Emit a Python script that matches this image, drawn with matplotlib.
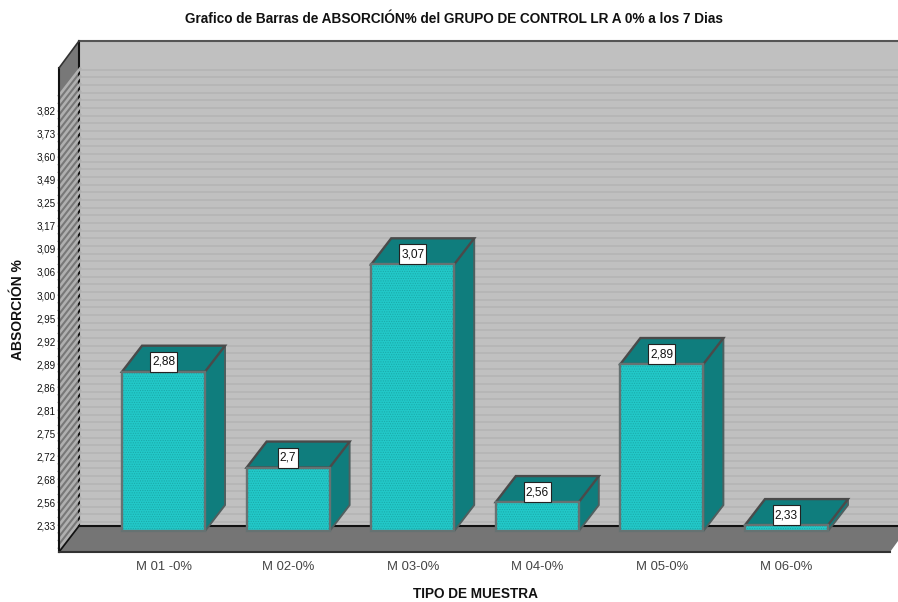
import numpy as np
import matplotlib
matplotlib.use('Agg')
import matplotlib.pyplot as plt
from matplotlib.patches import Polygon, Rectangle
from matplotlib.transforms import Affine2D

plt.rcParams['font.family'] = ['Liberation Sans', 'DejaVu Sans']
plt.rcParams['hatch.linewidth'] = 0.5

muestras = ['M 01 -0%', 'M 02-0%', 'M 03-0%', 'M 04-0%', 'M 05-0%', 'M 06-0%']
absorcion = [2.88, 2.7, 3.07, 2.56, 2.89, 2.33]
etiquetas = ['2,88', '2,7', '3,07', '2,56', '2,89', '2,33']

# the value axis is categorical: every distinct reading gets one equal step
niveles = [2.33, 2.56, 2.68, 2.72, 2.75, 2.81, 2.86, 2.89, 2.92, 2.95, 3.00,
           3.06, 3.09, 3.17, 3.25, 3.49, 3.60, 3.73, 3.82]
niveles = np.array(niveles)
rangos = np.arange(len(niveles))


def to_rank(v):
    v = np.asarray(v, dtype=float)
    r = np.interp(v, niveles, rangos)
    r = np.where(v < niveles[0], (v - niveles[0]) / (niveles[1] - niveles[0]), r)
    r = np.where(v > niveles[-1], rangos[-1] + (v - niveles[-1]) / (niveles[-1] - niveles[-2]), r)
    return r


def from_rank(r):
    r = np.asarray(r, dtype=float)
    v = np.interp(r, rangos, niveles)
    v = np.where(r < 0, niveles[0] + r * (niveles[1] - niveles[0]), v)
    v = np.where(r > rangos[-1], niveles[-1] + (r - rangos[-1]) * (niveles[-1] - niveles[-2]), v)
    return v


W, H = 898, 602
fig = plt.figure(figsize=(W / 100, H / 100), dpi=100, facecolor='white')

# front plane of the box, in pixels from the top left corner
LEFT, RIGHT, TOP, BOTTOM = 59, 898, 41, 552
ax = fig.add_axes([LEFT / W, 1 - BOTTOM / H, (RIGHT - LEFT) / W, (BOTTOM - TOP) / H])
ax.patch.set_alpha(0)
for s in ax.spines.values():
    s.set_visible(False)

ax.set_yscale('function', functions=(to_rank, from_rank))
ax.set_ylim(from_rank(-1.17), from_rank(21.04))
ax.set_xlim(-0.839, 5.895)
ax.set_yticks(niveles)
ax.set_yticklabels([('%.2f' % n).replace('.', ',') for n in niveles])
x = np.arange(len(muestras))
ax.set_xticks(x)
ax.set_xticklabels(muestras)
ax.tick_params(axis='y', length=0, pad=2.5, labelsize=7.1, labelcolor='#111111')
ax.tick_params(axis='x', length=0, pad=6.3, labelsize=9.4, labelcolor='#444444')

# pixel coordinates measured from the top left corner
px = Affine2D().scale(1, -1).translate(0, H)
DX, DY = 20, 26


def poly(pts, **kw):
    p = Polygon(pts, closed=True, transform=px, clip_on=False, **kw)
    ax.add_patch(p)
    return p


def line(xs, ys, **kw):
    ax.plot(xs, ys, transform=px, clip_on=False, solid_capstyle='projecting', **kw)


# walls and floor
poly([(LEFT + DX, TOP), (RIGHT, TOP), (RIGHT, BOTTOM - DY), (LEFT + DX, BOTTOM - DY)],
     fc='#c0c0c0', ec='none', zorder=0)
poly([(LEFT, TOP + DY + 1), (LEFT + DX, TOP), (LEFT + DX, BOTTOM - DY), (LEFT, BOTTOM)],
     fc='#787878', ec='none', zorder=0)
poly([(LEFT, BOTTOM), (LEFT + DX, BOTTOM - DY), (RIGHT, BOTTOM - DY), (RIGHT, BOTTOM - 11), (890, BOTTOM)],
     fc='#757575', ec='none', zorder=0)

line([LEFT + DX, LEFT + DX], [TOP, BOTTOM - DY], color='#111111', lw=1.5, zorder=1)

# grid lines run along the back wall and down the left wall
trans = ax.transData
for r in np.arange(-1, 18.9, 1 / 3):
    y_px = H - trans.transform((0, from_rank(r)))[1]
    line([LEFT + DX + 1, RIGHT], [y_px - DY, y_px - DY], color='#b3b3b3', lw=1.1, zorder=1)
    line([LEFT, LEFT + DX + 1], [y_px, y_px - DY - 1], color='#b0b0b0', lw=1.9, zorder=1)

line([LEFT + DX, RIGHT], [TOP, TOP], color='#555555', lw=1.5, zorder=1.5)
line([LEFT, LEFT], [TOP + DY + 1, BOTTOM], color='#111111', lw=1.5, zorder=1.5)
line([LEFT, LEFT + DX], [TOP + DY + 1, TOP], color='#333333', lw=1.2, zorder=1.5)
line([LEFT, LEFT + DX], [BOTTOM, BOTTOM - DY], color='#111111', lw=1.2, zorder=1.5)
line([LEFT + DX, RIGHT], [BOTTOM - DY, BOTTOM - DY], color='#111111', lw=1.5, zorder=1.5)
line([LEFT, 890], [BOTTOM, BOTTOM], color='#333333', lw=1.5, zorder=1.5)

# bars: flat front face from the data, then the side and top extruded in pixels
base = float(from_rank(-0.26))
ancho = 0.666
alturas = [v - base for v in absorcion]
ax.bar(x, alturas, ancho, bottom=base, color='#22c8c8', edgecolor='#1aa8a8',
       hatch='.......', linewidth=0, zorder=3)
ax.bar(x, alturas, ancho, bottom=base, fill=False, edgecolor='#667272', linewidth=1.7, zorder=3.2)

bx, by = 20, 26
fig.canvas.draw()
rend = fig.canvas.get_renderer()
for i, v in enumerate(absorcion):
    x0, y_top = trans.transform((i - ancho / 2, v))
    x1, y_base = trans.transform((i + ancho / 2, base))
    y_top, y_base = H - y_top, H - y_base
    poly([(x1, y_base), (x1 + bx, y_base - by), (x1 + bx, y_top - by), (x1, y_top)],
         fc='#0f7d7d', ec='#4f5f5f', lw=1.4, zorder=2.5)
    poly([(x0, y_top), (x0 + bx, y_top - by), (x1 + bx, y_top - by), (x1, y_top)],
         fc='#0f7d7d', ec='#4a4a4a', lw=1.7, zorder=2.6)

    # value box sits on the bar's top edge
    cx = (x0 + x1) / 2
    t = ax.text(cx, y_top - 10, etiquetas[i], transform=px, ha='center', va='center',
                fontsize=8.6, color='#111111', zorder=6, clip_on=False)
    bb = t.get_window_extent(rend)
    ax.add_patch(Rectangle((cx - bb.width / 2 - 2, y_top - 20), bb.width + 4, 20, transform=px,
                           fc='white', ec='#222222', lw=0.8, zorder=5, clip_on=False))

fig.text(454 / W, 1 - 19 / H, 'Grafico de Barras de ABSORCIÓN% del GRUPO DE CONTROL LR A 0% a los 7 Dias',
         ha='center', va='center', fontsize=9.8, fontweight='bold', color='#111111')
fig.text(18 / W, 1 - 310 / H, 'ABSORCIÓN %', rotation=90, ha='center', va='center',
         fontsize=10, fontweight='bold', color='#111111')
fig.text(475 / W, 1 - 594 / H, 'TIPO DE MUESTRA', ha='center', va='center',
         fontsize=9.8, fontweight='bold', color='#111111')

fig.savefig('out.png', dpi=100)
